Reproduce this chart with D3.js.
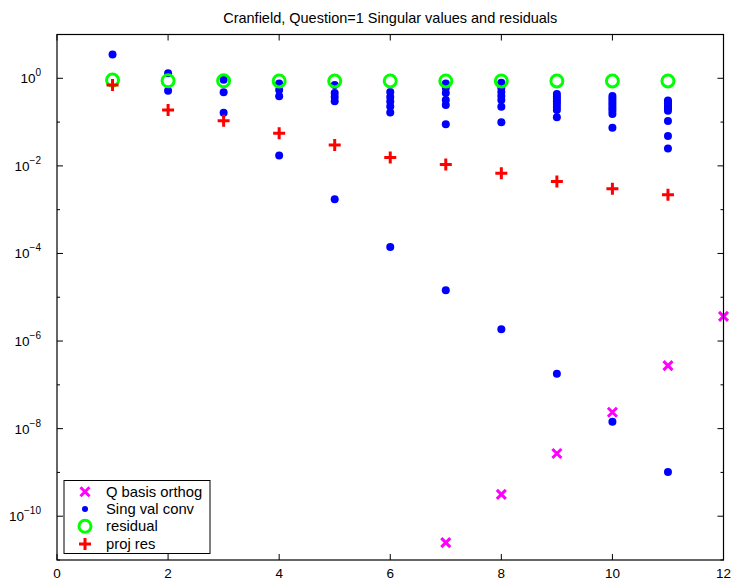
<!DOCTYPE html>
<html>
<head>
<meta charset="utf-8">
<script src="https://cdn.jsdelivr.net/npm/d3@7"></script>
<style>
  html, body { margin: 0; padding: 0; background: #fff; }
  svg { display: block; font-family: "Liberation Sans", Arial, Helvetica, sans-serif; }
</style>
</head>
<body>
<svg id="chart" width="733" height="580"></svg>
<script>
// Iteration numbers on the x axis
const iterations = [1, 2, 3, 4, 5, 6, 7, 8, 9, 10, 11];

// Q basis orthogonality loss (iterations 7..12)
const qBasisIter = [7, 8, 9, 10, 11, 12];
const qBasisValues = [2.5e-11, 3.15e-10, 2.7e-9, 2.36e-8, 2.75e-7, 3.66e-6];

// Singular value convergence estimates, one list per iteration
const singValues = [
  [3.5],
  [1.3, 0.52],
  [0.93, 0.48, 0.163],
  [0.76, 0.54, 0.39, 0.0172],
  [0.70, 0.46, 0.375, 0.30, 0.00174],
  [0.486, 0.375, 0.296, 0.227, 0.166, 1.4e-4],
  [0.76, 0.60, 0.46, 0.32, 0.246, 0.089, 1.44e-5],
  [0.79, 0.60, 0.487, 0.395, 0.32, 0.225, 0.099, 1.85e-6],
  [0.44, 0.385, 0.337, 0.296, 0.259, 0.22, 0.19, 0.129, 1.78e-7],
  [0.395, 0.346, 0.303, 0.266, 0.233, 0.204, 0.179, 0.153, 0.0747, 1.43e-8],
  [0.31, 0.29, 0.27, 0.25, 0.225, 0.204, 0.182, 0.106, 0.0483, 0.0248, 1.02e-9]
];

// Residual norms
const residualValues = [0.91, 0.88, 0.88, 0.87, 0.87, 0.87, 0.87, 0.87, 0.87, 0.87, 0.87];

// Projected residuals
const projResValues = [0.70, 0.19, 0.107, 0.0557, 0.0298, 0.0156, 0.0107, 0.0068, 0.0044, 0.0030, 0.0022];

// Axis ticks
const xTicks = [0, 2, 4, 6, 8, 10, 12];
const yTickExponents = [1, 0, -1, -2, -3, -4, -5, -6, -7, -8, -9, -10, -11];
const yLabelExponents = [0, -2, -4, -6, -8, -10];

const titleText = "Cranfield, Question=1 Singular values and residuals";
const legendLabels = ["Q basis orthog", "Sing val conv", "residual", "proj res"];

const svg = d3.select("#chart");
const L = 57, R = 723.5, T = 34.5, B = 560;

const x = d3.scaleLinear().domain([0, 12]).range([L, R]);
const y = d3.scaleLog().domain([1e-11, 1e1]).range([B, T]);

const colors = { q: "#ff00ff", sv: "#0000ff", res: "#00ff00", proj: "#ff0000" };

// Title, centred over the axes
svg.append("text")
  .attr("x", (L + R) / 2).attr("y", 23)
  .attr("text-anchor", "middle")
  .attr("font-size", 14.5)
  .text(titleText);

const plot = svg.append("g");

// Marker drawing helpers
function drawCross(g, cx, cy, s, color) {
  g.append("path")
    .attr("d", `M${cx - s},${cy - s}L${cx + s},${cy + s}M${cx - s},${cy + s}L${cx + s},${cy - s}`)
    .attr("stroke", color).attr("stroke-width", 3).attr("fill", "none");
}
function drawPlus(g, cx, cy, s, color) {
  g.append("path")
    .attr("d", `M${cx - s},${cy}L${cx + s},${cy}M${cx},${cy - s}L${cx},${cy + s}`)
    .attr("stroke", color).attr("stroke-width", 3).attr("fill", "none");
}
function drawDot(g, cx, cy, r, color) {
  g.append("circle").attr("cx", cx).attr("cy", cy).attr("r", r).attr("fill", color);
}
function drawRing(g, cx, cy, r, color) {
  g.append("circle").attr("cx", cx).attr("cy", cy).attr("r", r)
    .attr("fill", "none").attr("stroke", color).attr("stroke-width", 3);
}

// Q basis orthogonality
qBasisIter.forEach((it, i) => drawCross(plot, x(it), y(qBasisValues[i]), 4.5, colors.q));

// Singular value convergence
singValues.forEach((vals, i) => {
  vals.forEach(v => drawDot(plot, x(iterations[i]), y(v), 4, colors.sv));
});

// Residuals
residualValues.forEach((v, i) => drawRing(plot, x(iterations[i]), y(v), 6, colors.res));

// Projected residuals
projResValues.forEach((v, i) => drawPlus(plot, x(iterations[i]), y(v), 6, colors.proj));

// Axes box
const axes = svg.append("g").attr("stroke", "#000").attr("fill", "none");
axes.append("rect").attr("x", L).attr("y", T).attr("width", R - L).attr("height", B - T)
  .attr("stroke-width", 1.2);

// X ticks (bottom and top) and labels
xTicks.forEach(t => {
  const px = x(t);
  axes.append("line").attr("x1", px).attr("x2", px).attr("y1", B).attr("y2", B - 6);
  axes.append("line").attr("x1", px).attr("x2", px).attr("y1", T).attr("y2", T + 6);
  svg.append("text")
    .attr("x", px).attr("y", 578)
    .attr("text-anchor", "middle")
    .attr("font-size", 13.5)
    .text(t);
});

// Y ticks (left and right) and labels
yTickExponents.forEach(e => {
  const py = y(Math.pow(10, e));
  const labelled = yLabelExponents.includes(e);
  const len = labelled ? 6 : 3;
  axes.append("line").attr("x1", L).attr("x2", L + len).attr("y1", py).attr("y2", py);
  axes.append("line").attr("x1", R).attr("x2", R - len).attr("y1", py).attr("y2", py);
});
yLabelExponents.forEach(e => {
  const py = y(Math.pow(10, e));
  const t = svg.append("text")
    .attr("x", 41).attr("y", py + 5)
    .attr("text-anchor", "end")
    .attr("font-size", 13.5);
  t.append("tspan").text("10");
  t.append("tspan").attr("dy", -7).attr("font-size", 10)
    .text(e === 0 ? "0" : "\u2212" + Math.abs(e));
});

// Legend
const lg = svg.append("g");
lg.append("rect").attr("x", 64).attr("y", 480.5).attr("width", 146).attr("height", 73)
  .attr("fill", "#fff").attr("stroke", "#000").attr("stroke-width", 1);
const legendY = [491.7, 509, 526.3, 544];
const mx = 85;
drawCross(lg, mx, legendY[0], 4.5, colors.q);
drawDot(lg, mx, legendY[1], 3, colors.sv);
drawRing(lg, mx, legendY[2], 6, colors.res);
drawPlus(lg, mx, legendY[3], 6, colors.proj);
legendLabels.forEach((s, i) => {
  lg.append("text").attr("x", 106).attr("y", legendY[i] + 5)
    .attr("font-size", 14.8).text(s);
});
</script>
</body>
</html>
